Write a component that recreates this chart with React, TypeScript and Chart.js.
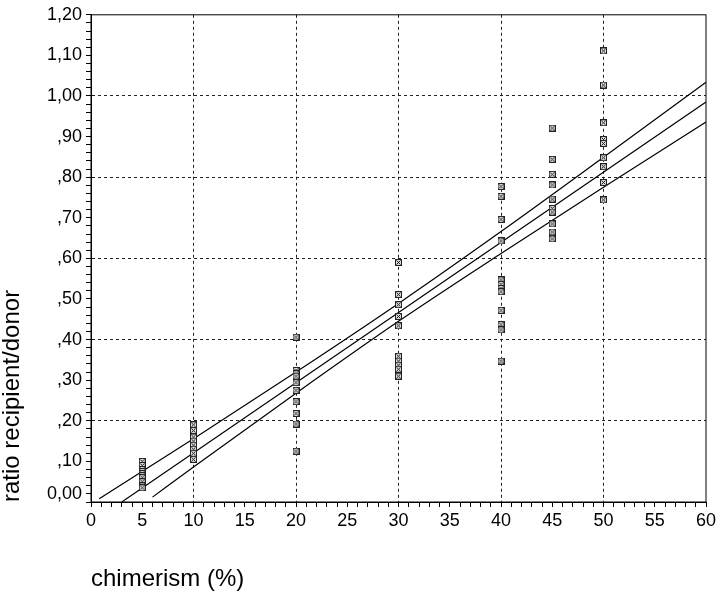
import React, { useEffect, useRef } from 'react';
import { Chart, registerables } from 'chart.js';

Chart.register(...registerables);

// chimerism (%) levels and measured ratio recipient/donor
const ratiosAt5 = [0.1, 0.09, 0.08, 0.075, 0.07, 0.065, 0.06, 0.05, 0.04, 0.035];
const ratiosAt10 = [0.19, 0.176, 0.16, 0.15, 0.14, 0.13, 0.12, 0.105];
const ratiosAt20 = [0.406, 0.324, 0.316, 0.31, 0.294, 0.275, 0.247, 0.218, 0.192, 0.125];
const ratiosAt30 = [0.59, 0.511, 0.486, 0.457, 0.434, 0.359, 0.347, 0.337, 0.327, 0.31];
const ratiosAt40 = [0.777, 0.753, 0.696, 0.643, 0.547, 0.536, 0.526, 0.518, 0.472, 0.437, 0.424, 0.347];
const ratiosAt45 = [0.921, 0.844, 0.807, 0.781, 0.746, 0.723, 0.714, 0.685, 0.665, 0.648];
const ratiosAt50 = [1.111, 1.027, 0.934, 0.893, 0.883, 0.848, 0.826, 0.787, 0.744];
const chimerismLevels = [5, 10, 20, 30, 40, 45, 50];
const ratioGroups = [ratiosAt5, ratiosAt10, ratiosAt20, ratiosAt30, ratiosAt40, ratiosAt45, ratiosAt50];

// regression line (straight) and its confidence band
const fitLineX = [3.0, 60];
const fitLineY = [0.0, 0.985];
const upperBandX = [0.8, 10, 20, 30, 40, 50, 60];
const upperBandY = [0.008, 0.156, 0.32, 0.489, 0.666, 0.849, 1.034];
const lowerBandX = [6.0, 10, 20, 30, 40, 50, 60];
const lowerBandY = [0.012, 0.086, 0.268, 0.445, 0.612, 0.775, 0.936];

// axis ticks
const xMin = 0;
const xMax = 60;
const xMinorStep = 1;
const xLabelStep = 5;
const xGridStep = 10;
const yMin = 0;
const yMax = 1.2;
const yMinorStep = 0.02;
const yLabelStep = 0.1;
const yGridStep = 0.2;

const FONT = "'Liberation Sans', Arial, Helvetica, sans-serif";

function fmtRatio(v: number): string {
  const s = v.toFixed(2).replace('.', ',');
  if (s.startsWith('0,') && v !== 0) return s.slice(1);
  return s;
}

function isMultiple(v: number, step: number): boolean {
  const r = v / step;
  return Math.abs(r - Math.round(r)) < 1e-6;
}

export default function App() {
  const ref = useRef<HTMLCanvasElement | null>(null);

  useEffect(() => {
    if (!ref.current) return;

    const marker = document.createElement('canvas');
    marker.width = 7;
    marker.height = 7;
    const g = marker.getContext('2d')!;
    g.fillStyle = '#d8d8d8';
    g.fillRect(0, 0, 7, 7);
    g.strokeStyle = '#222';
    g.lineWidth = 1;
    g.strokeRect(0.5, 0.5, 6, 6);
    g.beginPath();
    g.moveTo(1.5, 1.5);
    g.lineTo(5.5, 5.5);
    g.moveTo(5.5, 1.5);
    g.lineTo(1.5, 5.5);
    g.stroke();

    const points: { x: number; y: number }[] = [];
    chimerismLevels.forEach((lvl, i) => {
      ratioGroups[i].forEach((r) => points.push({ x: lvl, y: r }));
    });

    const mkLine = (xs: number[], ys: number[]) => xs.map((x, i) => ({ x, y: ys[i] }));

    const lineStyle = {
      type: 'line' as const,
      showLine: true,
      borderColor: '#000',
      borderWidth: 1.2,
      pointRadius: 0,
      fill: false,
      cubicInterpolationMode: 'monotone' as const,
    };

    const framePlugin = {
      id: 'frame',
      afterDraw(chart: any) {
        const { ctx, chartArea } = chart;
        ctx.save();
        ctx.strokeStyle = '#000';
        ctx.lineWidth = 1;
        ctx.strokeRect(chartArea.left, chartArea.top, chartArea.right - chartArea.left, chartArea.bottom - chartArea.top);
        const ys = chart.scales.y;
        ctx.fillStyle = '#000';
        ctx.font = `18px ${FONT}`;
        ctx.textAlign = 'right';
        ctx.textBaseline = 'middle';
        ctx.fillText(fmtRatio(0), ys.right - 9, ys.getPixelForValue(0) - 8);
        ctx.restore();
      },
    };

    const chart = new Chart(ref.current, {
      type: 'scatter',
      data: {
        datasets: [
          {
            label: 'measurements',
            data: points,
            pointStyle: marker as any,
            pointRadius: 3.5,
            order: 0,
          },
          { ...lineStyle, label: 'upper', data: mkLine(upperBandX, upperBandY), order: 1 },
          { ...lineStyle, label: 'fit', data: mkLine(fitLineX, fitLineY), order: 1 },
          { ...lineStyle, label: 'lower', data: mkLine(lowerBandX, lowerBandY), order: 1 },
        ] as any,
      },
      plugins: [framePlugin],
      options: {
        animation: false,
        responsive: false,
        devicePixelRatio: 1,
        layout: { padding: { left: 0, top: 11, right: 14, bottom: 0 } },
        plugins: { legend: { display: false }, tooltip: { enabled: false } },
        scales: {
          x: {
            type: 'linear',
            min: xMin,
            max: xMax,
            afterFit: (s: any) => {
              s.height = 92;
            },
            ticks: {
              stepSize: xMinorStep,
              autoSkip: false,
              maxRotation: 0,
              padding: 3,
              color: '#000',
              font: { family: FONT, size: 18 },
              callback: (v: any) => (isMultiple(Number(v), xLabelStep) ? String(v) : ''),
            },
            grid: {
              color: (c: any) => {
                const v = c.tick ? c.tick.value : 0;
                return v > xMin && v < xMax && isMultiple(v, xGridStep) ? '#222' : 'transparent';
              },
              lineWidth: 1,
              tickColor: '#000',
              tickLength: 5,
              tickBorderDash: [],
            },
            border: { color: '#000', width: 1, dash: [3, 3] },
            title: {
              display: true,
              text: 'chimerism (%)',
              align: 'start',
              color: '#000',
              font: { family: FONT, size: 24, lineHeight: 1 },
              padding: { top: 0, bottom: 3 },
            },
          },
          y: {
            type: 'linear',
            min: yMin,
            max: yMax,
            afterFit: (s: any) => {
              s.width = 91;
            },
            ticks: {
              stepSize: yMinorStep,
              autoSkip: false,
              padding: 4,
              color: '#000',
              font: { family: FONT, size: 18 },
              callback: (v: any) => {
                const n = Number(v);
                if (n === 0) return '';
                return isMultiple(n, yLabelStep) ? fmtRatio(n) : '';
              },
            },
            grid: {
              color: (c: any) => {
                const v = c.tick ? c.tick.value : 0;
                return v > yMin + 1e-6 && v < yMax - 1e-6 && isMultiple(v, yGridStep) ? '#222' : 'transparent';
              },
              lineWidth: 1,
              tickColor: '#000',
              tickLength: 5,
              tickBorderDash: [],
            },
            border: { color: '#000', width: 1, dash: [3, 3] },
            title: {
              display: true,
              text: 'ratio recipient/donor',
              align: 'start',
              color: '#000',
              font: { family: FONT, size: 24, lineHeight: 1 },
              padding: { top: 0, bottom: 0 },
            },
          },
        },
      } as any,
    });

    return () => chart.destroy();
  }, []);

  return (
    <div style={{ position: 'fixed', left: 0, top: 0, width: 720, height: 594, background: '#fff' }}>
      <canvas ref={ref} width={720} height={594} style={{ width: 720, height: 594, display: 'block' }} />
    </div>
  );
}
